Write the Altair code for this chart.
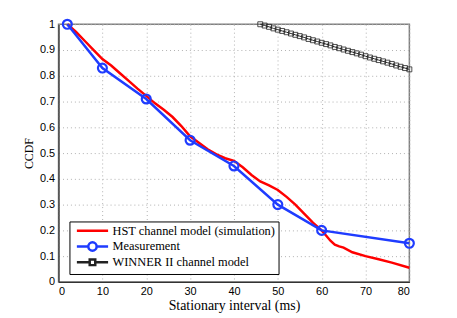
import altair as alt
import pandas as pd

SERIES = ["HST channel model (simulation)", "Measurement", "WINNER II channel model"]

hst_x = [2, 4, 6, 8, 10, 12, 14, 16, 18, 20, 22, 24, 26, 28, 30, 32, 34, 36, 38, 40,
         42, 44, 46, 48, 50, 52, 54, 56, 58, 60, 61, 62, 63, 64, 65, 67, 70, 73, 76, 80]
hst_y = [1.0, 0.97, 0.935, 0.9, 0.865, 0.84, 0.81, 0.78, 0.75, 0.722, 0.693, 0.668, 0.64,
         0.605, 0.565, 0.54, 0.515, 0.495, 0.48, 0.47, 0.445, 0.415, 0.39, 0.375, 0.357,
         0.33, 0.30, 0.265, 0.23, 0.2, 0.18, 0.16, 0.145, 0.138, 0.133, 0.115, 0.10,
         0.088, 0.075, 0.055]

meas_x = [2, 10, 20, 30, 40, 50, 60, 80]
meas_y = [1.0, 0.83, 0.71, 0.55, 0.45, 0.30, 0.20, 0.15]

win_x = list(range(46, 81))
win_y = [1.0, 0.995, 0.99, 0.984, 0.979, 0.974, 0.969, 0.964, 0.959, 0.954, 0.949, 0.943,
         0.938, 0.933, 0.928, 0.923, 0.918, 0.912, 0.907, 0.902, 0.897, 0.892, 0.887,
         0.882, 0.876, 0.871, 0.866, 0.861, 0.856, 0.851, 0.846, 0.840, 0.835, 0.830, 0.825]

x_ticks = [0, 10, 20, 30, 40, 50, 60, 70, 80]
y_ticks = [0, 0.1, 0.2, 0.3, 0.4, 0.5, 0.6, 0.7, 0.8, 0.9, 1.0]

RED = "#ff0000"
BLUE = "#1f3cff"
BLACK = "#222222"

hst = pd.DataFrame({"x": hst_x, "y": hst_y, "s": SERIES[0]})
meas = pd.DataFrame({"x": meas_x, "y": meas_y, "s": SERIES[1]})
win = pd.DataFrame({"x": win_x, "y": win_y, "s": SERIES[2]})
alldf = pd.concat([hst, meas, win])

xs = alt.Scale(domain=[0, 80], nice=False)
ys = alt.Scale(domain=[0, 1], nice=False)
X = alt.X("x:Q", scale=xs, axis=alt.Axis(values=x_ticks, title="Stationary interval (ms)",
                                          titleFontSize=14, titlePadding=2))
Y = alt.Y("y:Q", scale=ys, axis=alt.Axis(values=y_ticks, format=".1~f", title="CCDF",
                                          titleFontSize=12, titlePadding=4))

red_line = alt.Chart(hst).mark_line(color=RED, strokeWidth=2.5).encode(X, Y)
blue_line = alt.Chart(meas).mark_line(color=BLUE, strokeWidth=2.5).encode(X, Y)
blue_pts = alt.Chart(meas).mark_point(shape="circle", size=81, color=BLUE, strokeWidth=2.2,
                                      filled=False, opacity=1).encode(X, Y)
w_line = alt.Chart(win).mark_line(color=BLACK, strokeWidth=1).encode(X, Y)
w_pts = alt.Chart(win).mark_point(shape="square", size=25, color=BLACK, strokeWidth=0.8,
                                  filled=False, opacity=1).encode(X, Y)

paths = [
    "M-4.5,0H4.5",
    "M-4.5,0H-1.2A1.2,1.2 0 1,1 1.2,0A1.2,1.2 0 1,1 -1.2,0M1.2,0H4.5",
    "M-4.5,0H-0.8M0.8,0H4.5M-0.8,-0.8H0.8V0.8H-0.8Z",
]

leg = alt.Legend(title=None, orient="none", legendX=11, legendY=199,
                 strokeColor="black", fillColor="white", padding=3, cornerRadius=0,
                 labelFont="Liberation Serif", labelFontSize=12.5, labelColor="black",
                 labelLimit=300, gridAlign="all", labelBaseline="middle",
                 symbolSize=49, symbolOffset=14, labelOffset=14, rowPadding=-6,
                 symbolOpacity=1)

legend_layer = alt.Chart(alldf).transform_filter("false").mark_point(filled=False, opacity=1).encode(
    X, Y,
    color=alt.Color("s:N", scale=alt.Scale(domain=SERIES, range=[RED, BLUE, BLACK]), legend=leg),
    shape=alt.Shape("s:N", scale=alt.Scale(domain=SERIES, range=paths), legend=leg),
    strokeWidth=alt.StrokeWidth("s:N", scale=alt.Scale(domain=SERIES, range=[2.5, 2.5, 1]), legend=leg),
)

chart = alt.layer(red_line, blue_line, blue_pts, w_line, w_pts, legend_layer).properties(
    width=354, height=260,
    autosize=alt.AutoSizeParams(type="none"),
    padding={"left": 51, "top": 15, "right": 40, "bottom": 35},
).configure_view(
    stroke="#808080", strokeWidth=1.5
).configure_axis(
    labelFont="Liberation Sans", labelFontSize=11, labelColor="black",
    titleFont="Liberation Serif", titleFontWeight="normal", titleColor="black",
    grid=True, gridColor="#b0b0b0", gridDash=[1, 3], gridWidth=1,
    ticks=False, labelPadding=4, domainColor="#333333", domainWidth=1.2,
)

chart.save("out.html", embed_options={"renderer": "svg", "actions": False})
